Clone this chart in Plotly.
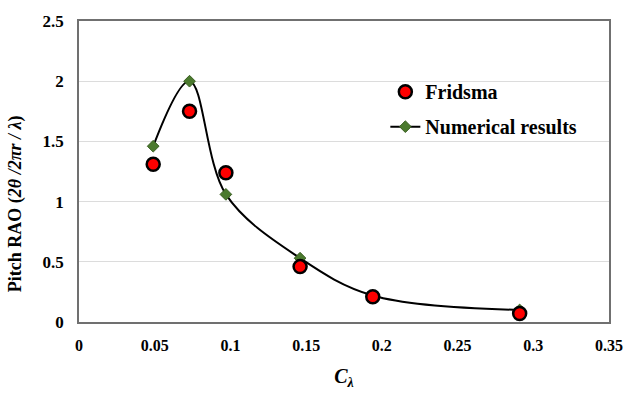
import plotly.graph_objects as go

c_lambda = [0.049, 0.073, 0.097, 0.146, 0.194, 0.291]
fridsma = [1.31, 1.75, 1.24, 0.46, 0.21, 0.07]
numerical = [1.46, 2.0, 1.06, 0.53, 0.22, 0.10]

x_ticks = [0, 0.05, 0.1, 0.15, 0.2, 0.25, 0.3, 0.35]
x_tick_labels = ["0", "0.05", "0.1", "0.15", "0.2", "0.25", "0.3", "0.35"]
y_ticks = [0, 0.5, 1, 1.5, 2, 2.5]
y_tick_labels = ["0", "0.5", "1", "1.5", "2", "2.5"]

FONT = "Liberation Serif, Times New Roman, serif"

fig = go.Figure()
fig.add_trace(go.Scatter(
    x=c_lambda, y=numerical, name="<b>Numerical results</b>",
    mode="lines+markers",
    line=dict(color="black", width=2, shape="spline", smoothing=1.0),
    marker=dict(symbol="diamond", size=9, color="#4b7a2e",
                line=dict(color="#3a5f22", width=1)),
    legendrank=2, legendgroup="b",
))
fig.add_trace(go.Scatter(
    x=c_lambda, y=fridsma, name="<b>Fridsma</b>",
    mode="markers",
    marker=dict(symbol="circle", size=13, color="#ff0000",
                line=dict(color="black", width=2.5)),
    legendrank=1, legendgroup="a",
))

fig.add_annotation(
    text="<b>Pitch RAO (<i>2θ /2πr / λ</i>)</b>",
    xref="paper", yref="paper", x=-0.12, y=(323 - 202) / 308,
    xanchor="center", yanchor="middle", textangle=-90, showarrow=False,
    font=dict(family=FONT, size=18, color="black"),
)

fig.update_layout(
    width=635, height=396,
    margin=dict(l=79, r=20, t=15, b=73),
    paper_bgcolor="white", plot_bgcolor="white",
    font=dict(family=FONT, size=16, color="black"),
    showlegend=True,
    legend=dict(x=0.578, y=0.83, xanchor="left", yanchor="top",
                bgcolor="rgba(0,0,0,0)", tracegroupgap=6,
                font=dict(family=FONT, size=20, color="black")),
    xaxis=dict(range=[0, 0.35], tickvals=x_ticks, ticktext=[f"<b>{t}</b>" for t in x_tick_labels],
               showgrid=False, zeroline=False, showline=True, linecolor="#707070",
               linewidth=1.5, mirror=True, ticks="", ticklabelstandoff=8,
               tickfont=dict(family=FONT, size=16),
               title=dict(text="<b><i>C<sub>λ</sub></i></b>", font=dict(family=FONT, size=20),
                          standoff=16)),
    yaxis=dict(range=[0, 2.5], tickvals=y_ticks, ticktext=[f"<b>{t}</b>" for t in y_tick_labels],
               showgrid=True, gridcolor="#dcdcdc", gridwidth=1.2,
               zeroline=False, showline=True, linecolor="#707070",
               linewidth=1.5, mirror=True, ticks="", ticklabelstandoff=10,
               tickfont=dict(family=FONT, size=17)),
)

fig.write_html("out.html")
